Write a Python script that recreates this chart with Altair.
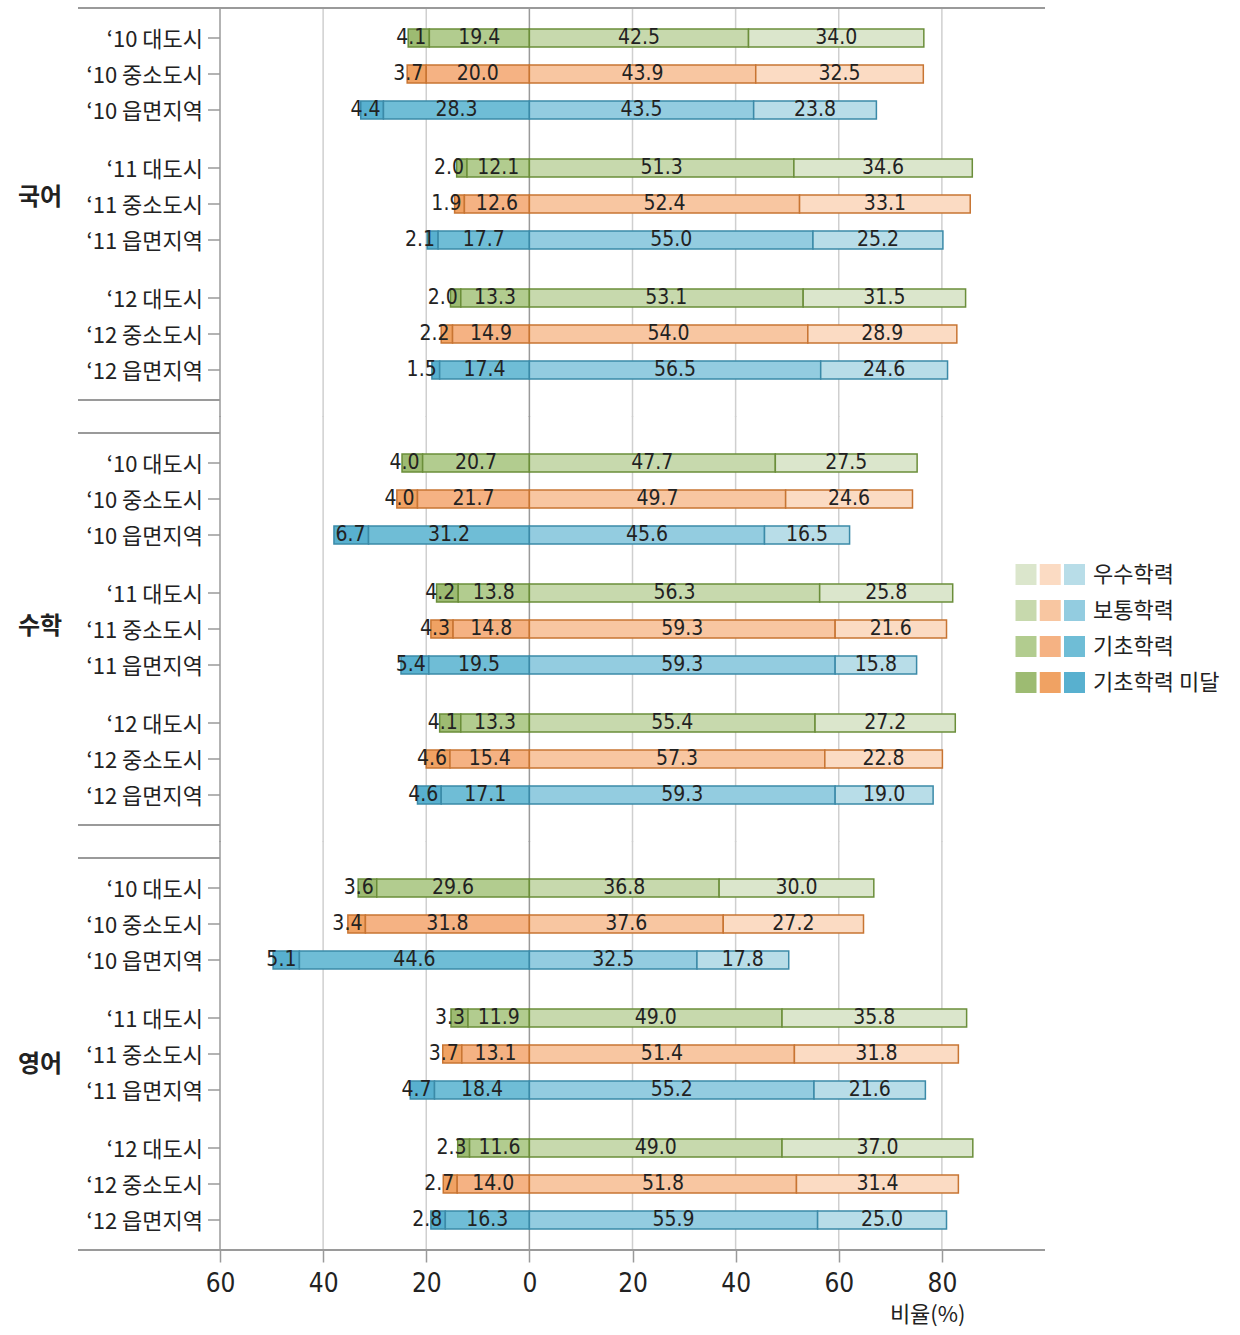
import altair as alt
import pandas as pd

subjects = ["국어", "수학", "영어"]
years = ["10", "11", "12"]
regions = ["대도시", "중소도시", "읍면지역"]
levels = ["기초학력 미달", "기초학력", "보통학력", "우수학력"]
legend_order = ["우수학력", "보통학력", "기초학력", "기초학력 미달"]

# rows: '10 대/중/읍, '11 대/중/읍, '12 대/중/읍 ; cols: 미달, 기초, 보통, 우수
korean = [
    [4.1, 19.4, 42.5, 34.0], [3.7, 20.0, 43.9, 32.5], [4.4, 28.3, 43.5, 23.8],
    [2.0, 12.1, 51.3, 34.6], [1.9, 12.6, 52.4, 33.1], [2.1, 17.7, 55.0, 25.2],
    [2.0, 13.3, 53.1, 31.5], [2.2, 14.9, 54.0, 28.9], [1.5, 17.4, 56.5, 24.6],
]
math = [
    [4.0, 20.7, 47.7, 27.5], [4.0, 21.7, 49.7, 24.6], [6.7, 31.2, 45.6, 16.5],
    [4.2, 13.8, 56.3, 25.8], [4.3, 14.8, 59.3, 21.6], [5.4, 19.5, 59.3, 15.8],
    [4.1, 13.3, 55.4, 27.2], [4.6, 15.4, 57.3, 22.8], [4.6, 17.1, 59.3, 19.0],
]
english = [
    [3.6, 29.6, 36.8, 30.0], [3.4, 31.8, 37.6, 27.2], [5.1, 44.6, 32.5, 17.8],
    [3.3, 11.9, 49.0, 35.8], [3.7, 13.1, 51.4, 31.8], [4.7, 18.4, 55.2, 21.6],
    [2.3, 11.6, 49.0, 37.0], [2.7, 14.0, 51.8, 31.4], [2.8, 16.3, 55.9, 25.0],
]

fill_colors = {
    "대도시": ["#9dbb72", "#b2cc8f", "#c7d9ad", "#dbe6cc"],
    "중소도시": ["#f0a263", "#f5b283", "#f8c6a1", "#fbdbc3"],
    "읍면지역": ["#58b0cf", "#6fbdd6", "#93cce0", "#b8dde8"],
}
border_colors = ["#6b8e3a", "#c87533", "#3b8aa8"]
grid_values = [-60, -40, -20, 0, 20, 40, 60, 80]

KFONT = "Noto Sans CJK KR"
NFONT = "'DejaVu Sans Condensed', 'Liberation Sans Narrow', sans-serif"
TXT = "#222222"
LINE = "#9a9a9a"

W, H = 825, 392
SUBJ_DY = [-6, -2, 11]

# ---- tables ----
rows = []
for subj, vals in zip(subjects, [korean, math, english]):
    for i, yr in enumerate(years):
        for j, reg in enumerate(regions):
            mi, gi, bo, us = vals[i * 3 + j]
            spans = [(-(gi + mi), -gi), (-gi, 0.0), (0.0, bo), (bo, bo + us)]
            for lev, v, (a, b) in zip(levels, [mi, gi, bo, us], spans):
                rows.append(dict(subject=subj, year=yr, region=reg, level=lev,
                                 value=v, x0=a, x1=b, mid=(a + b) / 2,
                                 key=reg + "|" + lev,
                                 label="\u2018" + yr + " " + reg))
df = pd.DataFrame(rows)

keys, cols = [], []
for reg in regions:
    for k, lev in enumerate(levels):
        keys.append(reg + "|" + lev)
        cols.append(fill_colors[reg][k])

legend_df = pd.DataFrame([dict(region=r, level=l, key=r + "|" + l)
                          for r in regions for l in levels])
grid_df = pd.DataFrame({"v": grid_values})
one_df = pd.DataFrame({"a": [0]})

xscale = alt.Scale(domain=[-60, 100], nice=False, zero=False)
color_scale = alt.Scale(domain=keys, range=cols)
stroke_scale = alt.Scale(domain=regions, range=border_colors)


def x_axis(show):
    if not show:
        return None
    return alt.Axis(values=grid_values, labelExpr="abs(datum.value)", grid=False,
                    domain=False, ticks=True, tickSize=12, tickColor=LINE, tickWidth=1.5,
                    labelFont=NFONT, labelFontSize=26, labelColor=TXT, labelPadding=8,
                    labelFlush=False, labelOverlap=False,
                    title="비율(%)", titleFont=KFONT, titleFontSize=22,
                    titleFontWeight="normal", titleColor=TXT, titleX=745, titleY=64,
                    titleAlign="right", titleBaseline="middle")


def panel(subj, idx):
    show = idx == 2
    d = df[df.subject == subj]
    base = alt.Chart(d)
    yenc = alt.Y("year:N", scale=alt.Scale(domain=years, paddingInner=22 / 130,
                                           paddingOuter=12 / 130), axis=None)
    yoff = alt.YOffset("region:N", scale=alt.Scale(domain=regions, paddingInner=0.5,
                                                   paddingOuter=0.25))
    top = 0 if idx == 0 else -17
    bot = H if idx == 2 else H + 17
    grid = alt.Chart(grid_df).mark_rule(strokeWidth=1.5).encode(
        x=alt.X("v:Q", scale=xscale, axis=x_axis(show)),
        y=alt.value(top), y2=alt.value(bot),
        color=alt.condition("datum.v == 0 || datum.v == -60",
                            alt.value(LINE), alt.value("#cfcfcf")),
    )
    bars = base.mark_bar(strokeWidth=1.5).encode(
        x=alt.X("x0:Q", scale=xscale, axis=x_axis(show)), x2="x1:Q",
        y=yenc, yOffset=yoff,
        color=alt.Color("key:N", scale=color_scale, legend=None),
        stroke=alt.Stroke("region:N", scale=stroke_scale, legend=None),
    )
    nums = base.transform_filter(alt.datum.level != "기초학력 미달").mark_text(
        font=NFONT, fontSize=21, color=TXT, baseline="middle").encode(
        x=alt.X("mid:Q", scale=xscale, axis=x_axis(show)), y=yenc, yOffset=yoff,
        text=alt.Text("value:Q", format=".1f"))
    low = base.transform_filter(alt.datum.level == "기초학력 미달").mark_text(
        font=NFONT, fontSize=21, color=TXT, baseline="middle", align="right", dx=-3).encode(
        x=alt.X("x1:Q", scale=xscale, axis=x_axis(show)), y=yenc, yOffset=yoff,
        text=alt.Text("value:Q", format=".1f"))
    one = base.transform_filter(alt.datum.level == "기초학력 미달")
    labels = one.mark_text(font=KFONT, fontSize=22, color=TXT, align="right",
                           baseline="middle", dy=2).encode(
        x=alt.value(-17), y=yenc, yOffset=yoff, text="label:N")
    ticks = one.mark_rule(color=LINE, strokeWidth=1.5).encode(
        x=alt.value(-12), x2=alt.value(0), y=yenc, yOffset=yoff)
    subj_lab = one.transform_filter(
        (alt.datum.year == "11") & (alt.datum.region == "중소도시")).mark_text(
        font=KFONT, fontSize=24, fontWeight="bold", color=TXT, align="left",
        baseline="middle", dy=SUBJ_DY[idx]).encode(
        x=alt.value(-202), y=yenc, yOffset=yoff, text="subject:N")
    top_line = alt.Chart(one_df).mark_rule(color=LINE, strokeWidth=2).encode(
        x=alt.value(-142), x2=alt.value(W if idx == 0 else 0), y=alt.value(0))
    bot_line = alt.Chart(one_df).mark_rule(color=LINE, strokeWidth=2).encode(
        x=alt.value(-142), x2=alt.value(W if idx == 2 else 0), y=alt.value(H))
    inner = alt.layer(grid, bars, nums, low, labels, ticks, subj_lab, top_line,
                      bot_line).properties(width=W, height=H)
    if idx != 1:
        return inner
    lbase = alt.Chart(legend_df)
    ly = alt.Y("level:N", scale=alt.Scale(type="point", domain=legend_order,
                                          range=[141.5, 249.5], padding=0), axis=None)
    sw = lbase.mark_square(size=441, opacity=1, filled=True).encode(
        x=alt.X("region:N", scale=alt.Scale(type="point", domain=regions,
                                            range=[806, 854.5], padding=0), axis=None),
        y=ly, color=alt.Color("key:N", scale=color_scale, legend=None))
    lt = lbase.transform_filter(alt.datum.region == "대도시").mark_text(
        font=KFONT, fontSize=22, color=TXT, align="left", baseline="middle").encode(
        x=alt.value(873), y=ly, text="level:N")
    legend = alt.layer(sw, lt)
    return alt.layer(inner, legend).resolve_scale(
        x="independent", y="independent").properties(width=W, height=H)


chart = alt.vconcat(*[panel(s, i) for i, s in enumerate(subjects)], spacing=33,
                    bounds="flush").properties(
    padding={"left": 18, "top": 7, "right": 0, "bottom": 8}
).configure_view(stroke=None)

chart.save("out.html", embed_options={"renderer": "svg", "actions": False})
